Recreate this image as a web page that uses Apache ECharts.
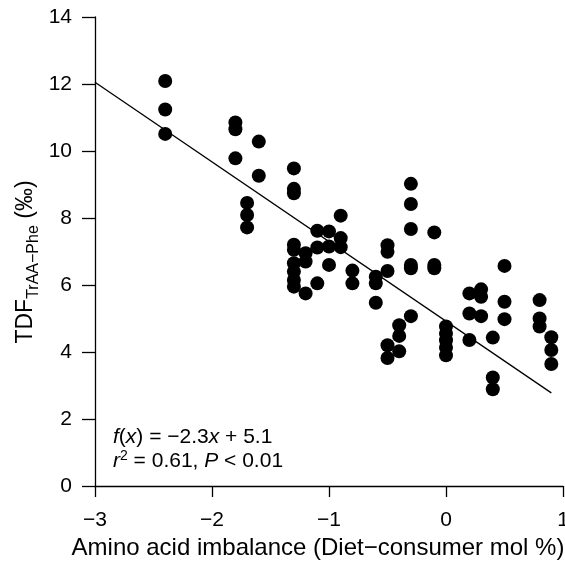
<!DOCTYPE html>
<html><head><meta charset="utf-8">
<script src="https://cdn.jsdelivr.net/npm/echarts@6/dist/echarts.min.js"></script>
<style>html,body{margin:0;padding:0;background:#fff}#c{width:565px;height:565px}</style>
</head><body><div id="c"></div>
<script>
// Amino acid imbalance (x) and TDF (y) per point
const xVals = [
 -2.4,-2.4,-2.4,
 -1.8,-1.8,-1.8,
 -1.7,-1.7,-1.7,
 -1.6,-1.6,
 -1.3,-1.3,-1.3,-1.3,-1.3,-1.3,-1.3,-1.3,-1.3,
 -1.2,-1.2,-1.2,
 -1.1,-1.1,-1.1,
 -1.0,-1.0,-1.0,
 -0.9,-0.9,-0.9,
 -0.8,-0.8,
 -0.6,-0.6,-0.6,
 -0.5,-0.5,-0.5,-0.5,-0.5,
 -0.4,-0.4,-0.4,
 -0.3,-0.3,-0.3,-0.3,-0.3,-0.3,
 -0.1,-0.1,-0.1,
 0,0,0,0,0,
 0.2,0.2,0.2,
 0.3,0.3,0.3,
 0.4,0.4,0.4,
 0.5,0.5,0.5,
 0.8,0.8,0.8,
 0.9,0.9,0.9
];
const yVals = [
 12.09,11.24,10.51,
 10.85,10.65,9.78,
 8.45,8.09,7.72,
 10.28,9.26,
 9.48,8.87,8.74,7.2,7.05,6.65,6.4,6.15,5.95,
 6.95,6.7,5.75,
 7.62,7.12,6.05,
 7.6,7.15,6.6,
 8.07,7.4,7.13,
 6.43,6.05,
 6.25,6.05,5.47,
 7.19,6.99,6.42,4.2,3.82,
 4.8,4.48,4.02,
 9.02,8.42,7.67,6.6,6.5,5.07,
 7.57,6.6,6.5,
 4.76,4.55,4.35,4.13,3.9,
 5.75,5.15,4.36,
 5.87,5.65,5.07,
 4.43,3.24,2.89,
 6.57,5.5,4.98,
 5.55,5.0,4.76,
 4.44,4.06,3.64
];
// fitted line end points as drawn
const fitX = [-3, 0.9];
const fitY = [12.05, 2.78];
const xTicks = [-3,-2,-1,0,1];
const yTicks = [0,2,4,6,8,10,12,14];

const FONT = 'Liberation Sans';
const chart = echarts.init(document.getElementById('c'), null, {renderer:'canvas'});
const pts = xVals.map((x,i)=>[x,yVals[i]]);
const line = fitX.map((x,i)=>[x,fitY[i]]);
chart.setOption({
  animation:false,
  backgroundColor:'#fff',
  grid:{left:95,right:2,top:17,bottom:79,containLabel:false,outerBoundsMode:'none'},
  xAxis:{type:'value',min:-3,max:1,interval:1,
    axisLine:{onZero:false,lineStyle:{color:'#000',width:1.3}},
    axisTick:{show:true,length:11,lineStyle:{color:'#000',width:1.3}},
    splitLine:{show:false},
    axisLabel:{color:'#000',fontSize:21,fontFamily:FONT,margin:24,
      formatter:v=>String(v).replace('-','\u2212')}},
  yAxis:{type:'value',min:0,max:14,interval:2,
    axisLine:{show:true,onZero:false,lineStyle:{color:'#000',width:1.3}},
    axisTick:{show:true,length:13,lineStyle:{color:'#000',width:1.3}},
    splitLine:{show:false},
    axisLabel:{color:'#000',fontSize:21,fontFamily:FONT,margin:23}},
  series:[
    {type:'line',data:line,symbol:'none',lineStyle:{color:'#000',width:1.3},z:1},
    {type:'scatter',data:pts,symbol:'circle',symbolSize:14,itemStyle:{color:'#000',opacity:1},z:2}
  ],
  graphic:[
    {type:'text',x:318,y:548,style:{text:'Amino acid imbalance (Diet\u2212consumer mol %)',
      font:'24px '+FONT,fill:'#000',align:'center',verticalAlign:'middle'},silent:true},
    {type:'text',x:26,y:262,rotation:Math.PI/2,style:{
      text:'{m|TDF}{s|TrAA\u2212Phe}{m| (\u2030)}',align:'center',verticalAlign:'middle',
      rich:{m:{fontSize:23,fontFamily:FONT,lineHeight:32,verticalAlign:'middle',fill:'#000'},
            s:{fontSize:16,fontFamily:FONT,lineHeight:16,verticalAlign:'bottom',fill:'#000'}}}},
    {type:'text',x:113,y:437,style:{
      text:'{i|f}{n|(}{i|x}{n|) = \u22122.3}{i|x}{n| + 5.1}',verticalAlign:'middle',
      rich:{i:{fontSize:21,fontFamily:FONT,fontStyle:'italic',fill:'#000'},n:{fontSize:21,fontFamily:FONT,fill:'#000'}}}},
    {type:'text',x:113,y:461,style:{
      text:'{i|r}{p|2}{n| = 0.61, }{i|P}{n| < 0.01}',verticalAlign:'middle',
      rich:{i:{fontSize:21,fontFamily:FONT,fontStyle:'italic',fill:'#000',lineHeight:24,verticalAlign:'middle'},
            n:{fontSize:21,fontFamily:FONT,fill:'#000',lineHeight:24,verticalAlign:'middle'},
            p:{fontSize:14,fontFamily:FONT,fill:'#000',lineHeight:14,verticalAlign:'top'}}}}
  ]
});
</script></body></html>
